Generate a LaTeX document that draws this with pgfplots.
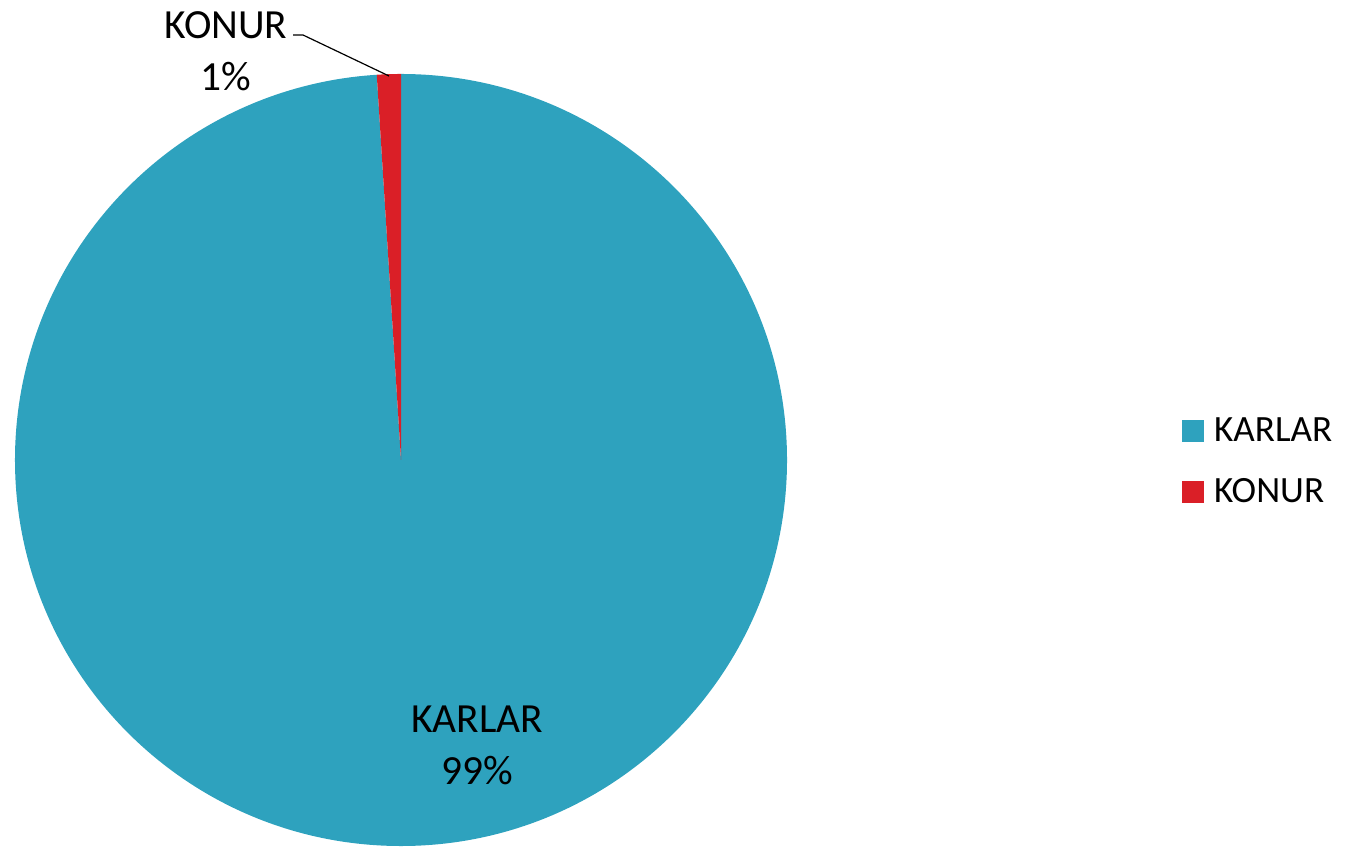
\documentclass[border=0pt]{standalone}
\usepackage{fontspec}
\setmainfont{Carlito}
\usepackage{pgfplots}
\usepackage{pgfplotstable}
\pgfplotsset{compat=1.18}

\definecolor{karlar}{HTML}{2EA2BE}
\definecolor{konur}{HTML}{DA1F27}

% pie data
\pgfplotstableread{
label value
KARLAR 99
KONUR 1
}\piedata

\begin{document}
\begin{tikzpicture}
\pgfplotstablegetelem{0}{value}\of\piedata \let\va\pgfplotsretval
\pgfplotstablegetelem{1}{value}\of\piedata \let\vb\pgfplotsretval
\pgfmathsetmacro\tot{\va+\vb}
\pgfmathsetmacro\fa{\va/\tot}
\pgfmathsetmacro\fb{\vb/\tot}
\pgfmathsetmacro\split{90-360*\fa}
\pgfmathtruncatemacro\pa{round(100*\fa)}
\pgfmathtruncatemacro\pb{round(100*\fb)}
\begin{axis}[
  x=0.5bp, y=0.5bp,
  xmin=0, xmax=1349, ymin=0, ymax=847,
  enlargelimits=false,
  hide axis,
  clip=false,
  legend style={
    at={(axis cs:1182,385.5)},
    anchor=west,
    draw=none, fill=none,
    inner sep=0pt,
    font=\fontsize{18.6}{22}\selectfont,
    row sep=17bp,
    nodes={inner xsep=5bp, inner ysep=0pt},
  },
  legend cell align=left,
  legend image code/.code={\fill[#1] (0bp,-5.25bp) rectangle (10.5bp,5.25bp);},
]
\coordinate (bl) at (axis cs:0,0);
\coordinate (tr) at (axis cs:1349,847);

% slices, clockwise from 12 o'clock
\fill[karlar] (axis cs:401,387) -- ++(90:193bp)
  arc[start angle=90, end angle=\split, radius=193bp] -- cycle;
\fill[konur] (axis cs:401,387) -- ++(\split:193bp)
  arc[start angle=\split, end angle=-270, radius=193bp] -- cycle;

\addlegendimage{karlar}
\addlegendentry{KARLAR}
\addlegendimage{konur}
\addlegendentry{KONUR}

% data labels
\node[align=center, font=\fontsize{20.8}{26}\selectfont] at (axis cs:477,102)
  {KARLAR\\\pa\%};
\node[align=center, font=\fontsize{20.8}{26}\selectfont] at (axis cs:226,796)
  {KONUR\\\pb\%};
\draw[line width=0.6bp] (axis cs:293,812) -- (axis cs:303,812) -- (axis cs:389,771);
\end{axis}
\pgfresetboundingbox
\path (bl) rectangle (tr);
\end{tikzpicture}
\end{document}
